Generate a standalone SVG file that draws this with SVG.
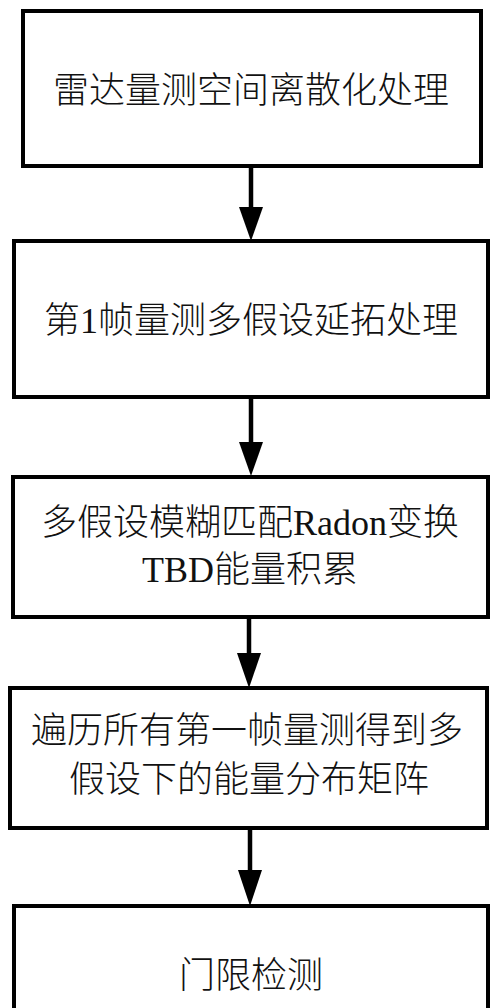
<svg xmlns="http://www.w3.org/2000/svg" width="500" height="1008" viewBox="0 0 500 1008">
<style>
.box{fill:#fff;stroke:#000;stroke-width:4}
.t{font-family:"Liberation Serif","Noto Sans CJK SC",serif;font-size:36px;font-weight:300;fill:#111;text-anchor:middle}
.stem{stroke:#000;stroke-width:4.5;fill:none}
.head{fill:#000}
</style>
<rect width="500" height="1008" fill="#fff"/>
<g id="connectors">
<line class="stem" x1="251" y1="166" x2="251" y2="212"/>
<path class="head" d="M239,207 L263,207 L251,241 Z"/>
<line class="stem" x1="251" y1="397" x2="251" y2="447"/>
<path class="head" d="M239,442 L263,442 L251,476 Z"/>
<line class="stem" x1="249" y1="617" x2="249" y2="658"/>
<path class="head" d="M237,653 L261,653 L249,688 Z"/>
<line class="stem" x1="250" y1="828" x2="250" y2="875"/>
<path class="head" d="M238,870 L262,870 L250,906 Z"/>
</g>
<g id="node1">
<rect class="box" x="23" y="11" width="458" height="155"/>
<text class="t" x="251" y="103">雷达量测空间离散化处理</text>
</g>
<g id="node2">
<rect class="box" x="14" y="241" width="474" height="156"/>
<text class="t" x="251" y="333">第1帧量测多假设延拓处理</text>
</g>
<g id="node3">
<rect class="box" x="13" y="477" width="475" height="140"/>
<text class="t" x="250" y="535">多假设模糊匹配Radon变换</text>
<text class="t" x="250" y="582">TBD能量积累</text>
</g>
<g id="node4">
<rect class="box" x="10" y="688" width="477" height="140"/>
<text class="t" x="247" y="743">遍历所有第一帧量测得到多</text>
<text class="t" x="249" y="792">假设下的能量分布矩阵</text>
</g>
<g id="node5">
<rect class="box" x="14" y="906" width="474" height="120"/>
<text class="t" x="251" y="988">门限检测</text>
</g>
</svg>
